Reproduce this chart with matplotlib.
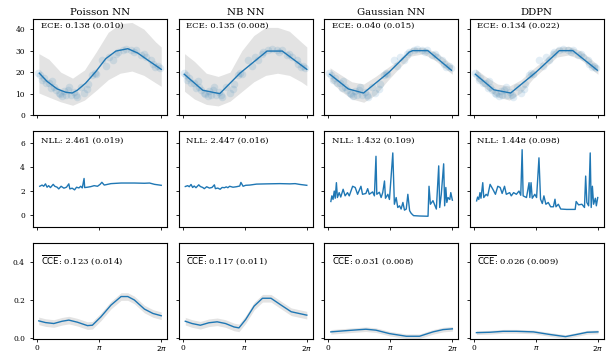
import numpy as np
import matplotlib.pyplot as plt

plt.rcParams['font.family'] = 'DejaVu Serif'
plt.rcParams['mathtext.fontset'] = 'dejavusans'

blue = '#1f77b4'

models = ["Poisson NN", "NB NN", "Gaussian NN", "DDPN"]
ece_txt = ["0.138 (0.010)", "0.135 (0.008)", "0.040 (0.015)", "0.134 (0.022)"]
nll_txt = ["2.461 (0.019)", "2.447 (0.016)", "1.432 (0.109)", "1.448 (0.098)"]
cce_txt = ["0.123 (0.014)", "0.117 (0.011)", "0.031 (0.008)", "0.026 (0.009)"]

# test points (row 1)
pts_x = [0.05, 0.17, 0.25, 0.34, 0.45, 0.59, 0.70, 0.76, 0.85, 0.95, 1.10, 1.15, 1.27, 1.36,
         1.45, 1.55, 1.61, 1.70, 1.85, 1.95, 2.00, 2.21, 2.38, 2.55, 2.60, 2.80, 2.92, 3.00,
         3.31, 3.50, 3.65, 3.82, 4.00, 4.08, 4.33, 4.50, 4.75, 4.90, 5.01, 5.26, 5.40, 5.52,
         5.77, 5.85, 5.98, 6.10, 6.20]
pts_y = [19.5, 18.7, 16.5, 17.2, 15.0, 14.9, 12.5, 15.7, 13.1, 11.5, 10.3, 10.0, 8.8, 11.1,
         9.5, 11.5, 13.1, 9.6, 10.8, 9.3, 8.5, 13.1, 10.3, 12.2, 14.5, 18.7, 19.8, 19.0,
         25.6, 23.0, 27.1, 25.6, 28.5, 29.4, 30.1, 30.9, 30.4, 29.5, 30.1, 27.9, 28.5, 27.1,
         25.6, 24.0, 22.5, 23.0, 21.8]

# predicted means (row 1)
poisson_mx = [0.12, 0.51, 1.02, 1.44, 1.78, 2.04, 2.46, 2.97, 3.48, 3.99, 4.59, 5.09, 5.60, 6.28]
poisson_my = [19.5, 15.7, 12.2, 10.7, 10.3, 11.6, 14.9, 20.2, 26.3, 29.8, 30.9, 28.9, 25.6, 21.3]
nb_mx = [0.09, 1.02, 1.88, 2.90, 4.27, 5.04, 6.28]
nb_my = [19.0, 11.6, 10.0, 19.5, 29.8, 29.8, 21.3]
gauss_mx = [0.09, 1.02, 1.79, 3.07, 4.10, 4.27, 5.04, 6.23]
gauss_my = [19.0, 12.2, 10.3, 19.9, 29.3, 30.0, 30.0, 20.9]
ddpn_mx = [0.09, 1.02, 1.87, 3.14, 4.33, 5.01, 6.25]
ddpn_my = [19.0, 11.8, 10.3, 19.9, 30.0, 30.0, 20.9]

# predictive intervals (row 1)
band_x = [0.1, 0.6, 1.2, 1.8, 2.4, 3.0, 3.6, 4.2, 4.8, 5.4, 6.0, 6.28]
poisson_lo = [10.3, 8.4, 6.2, 4.6, 7.0, 11.6, 16.5, 19.5, 20.5, 18.5, 15.0, 13.4]
poisson_hi = [28.6, 26.0, 20.0, 17.2, 21.0, 29.5, 38.5, 42.5, 43.1, 40.0, 34.0, 31.7]
nb_lo = [11.1, 7.5, 5.0, 4.3, 6.5, 11.0, 15.5, 18.5, 19.5, 18.5, 15.5, 13.7]
nb_hi = [28.6, 25.0, 19.5, 18.0, 20.0, 30.0, 37.0, 40.8, 40.8, 39.0, 34.0, 31.7]
gauss_lo = [16.0, 11.5, 7.5, 6.0, 9.5, 16.0, 22.0, 27.5, 28.5, 25.5, 21.0, 19.0]
gauss_hi = [22.0, 19.0, 15.5, 14.5, 18.0, 22.0, 26.0, 31.5, 31.5, 29.5, 25.5, 23.0]
ddpn_lo = [16.5, 12.5, 8.5, 7.0, 10.5, 17.0, 22.0, 27.0, 28.0, 26.0, 21.0, 19.0]
ddpn_hi = [21.5, 18.0, 14.5, 13.5, 16.5, 21.5, 26.0, 31.5, 32.0, 30.0, 25.5, 23.0]

# NLL traces (row 2)
poisson_nx = [0.14, 0.26, 0.34, 0.43, 0.51, 0.59, 0.68, 0.82, 0.90, 1.02, 1.10, 1.22, 1.36,
              1.49, 1.61, 1.66, 1.78, 1.90, 2.00, 2.12, 2.21, 2.29, 2.38, 2.41, 2.55, 2.72,
              2.89, 3.06, 3.19, 3.28, 3.40, 3.74, 4.25, 4.92, 5.43, 5.69, 5.94, 6.28]
poisson_ny = [2.40, 2.50, 2.40, 2.60, 2.32, 2.45, 2.29, 2.56, 2.40, 2.32, 2.18, 2.40, 2.24,
              2.32, 2.60, 2.18, 2.24, 2.10, 2.32, 2.26, 2.40, 2.26, 3.05, 2.29, 2.32, 2.37,
              2.45, 2.40, 2.56, 2.73, 2.50, 2.62, 2.67, 2.67, 2.65, 2.67, 2.56, 2.48]
nb_nx = [0.14, 0.26, 0.34, 0.43, 0.51, 0.59, 0.68, 0.82, 0.90, 1.02, 1.10, 1.22, 1.36,
         1.49, 1.61, 1.66, 1.78, 1.90, 2.00, 2.12, 2.21, 2.29, 2.38, 2.55, 2.72, 2.89,
         2.95, 3.06, 3.19, 3.40, 3.74, 4.25, 4.92, 5.43, 5.69, 5.94, 6.28]
nb_ny = [2.38, 2.45, 2.36, 2.55, 2.30, 2.42, 2.28, 2.52, 2.38, 2.30, 2.20, 2.36, 2.25,
         2.30, 2.52, 2.20, 2.25, 2.15, 2.30, 2.28, 2.35, 2.28, 2.40, 2.32, 2.36, 2.42,
         2.72, 2.40, 2.48, 2.50, 2.58, 2.60, 2.62, 2.60, 2.62, 2.55, 2.48]
gauss_nx = [0.14, 0.19, 0.25, 0.31, 0.36, 0.42, 0.47, 0.56, 0.64, 0.76, 0.86, 0.98, 1.07,
            1.24, 1.37, 1.49, 1.66, 1.74, 1.91, 2.00, 2.08, 2.25, 2.34, 2.42, 2.46, 2.59,
            2.68, 2.76, 2.85, 2.90, 3.02, 3.10, 3.18, 3.27, 3.35, 3.44, 3.52, 3.61, 3.69,
            3.78, 3.86, 3.95, 4.03, 4.12, 4.20, 4.32, 4.62, 5.05, 5.10, 5.17, 5.30, 5.47,
            5.59, 5.64, 5.72, 5.84, 5.89, 5.95, 6.00, 6.06, 6.15, 6.20, 6.28]
gauss_ny = [1.13, 1.60, 1.30, 2.00, 1.40, 2.70, 1.46, 1.87, 1.50, 2.15, 1.60, 1.87, 1.60,
            2.40, 2.30, 1.73, 2.40, 1.73, 1.80, 2.20, 1.73, 1.93, 1.60, 4.90, 1.73, 1.90,
            1.46, 1.87, 2.84, 1.40, 1.73, 1.30, 3.10, 5.18, 0.90, 1.46, 0.63, 0.77, 0.50,
            1.05, 0.41, 0.50, 1.73, 0.36, 0.14, -0.05, -0.08, -0.10, 2.40, 0.90, 1.20, 0.50,
            4.10, 0.63, 1.73, 4.27, 0.77, 2.30, 1.05, 1.46, 1.30, 1.87, 1.24]
ddpn_nx = [0.15, 0.20, 0.26, 0.32, 0.37, 0.46, 0.51, 0.63, 0.71, 0.83, 0.97, 1.10, 1.22,
           1.34, 1.44, 1.56, 1.65, 1.82, 1.90, 2.02, 2.16, 2.29, 2.38, 2.45, 2.50, 2.67,
           2.80, 2.84, 2.90, 2.96, 3.09, 3.18, 3.30, 3.38, 3.47, 3.55, 3.65, 3.77, 3.89,
           4.03, 4.11, 4.16, 4.28, 4.40, 4.70, 5.13, 5.18, 5.30, 5.47, 5.60, 5.66, 5.72,
           5.81, 5.89, 5.94, 6.00, 6.06, 6.15, 6.20, 6.27]
ddpn_ny = [1.18, 1.50, 1.30, 1.87, 1.40, 2.70, 1.46, 1.73, 1.60, 2.56, 2.15, 1.73, 2.40,
           2.30, 1.80, 2.40, 1.73, 1.87, 1.60, 1.87, 1.73, 2.00, 1.65, 5.45, 1.60, 1.46,
           2.70, 1.46, 2.70, 1.40, 1.73, 1.46, 4.77, 1.32, 0.96, 1.60, 0.90, 1.05, 0.69,
           0.69, 1.32, 0.69, 0.90, 0.50, 0.47, 0.47, 1.13, 0.85, 0.90, 0.63, 3.25, 1.05,
           0.77, 5.18, 0.63, 2.40, 0.90, 1.40, 0.77, 1.46]

# CCE traces (row 3)
poisson_cx = [0.09, 0.43, 0.85, 1.27, 1.61, 2.04, 2.55, 2.80, 3.23, 3.74, 4.25, 4.59, 4.92, 5.43, 5.86, 6.28]
poisson_cy = [0.090, 0.081, 0.076, 0.088, 0.094, 0.083, 0.065, 0.067, 0.111, 0.173, 0.218, 0.218, 0.200, 0.152, 0.129, 0.117]
nb_cx = [0.14, 0.48, 0.90, 1.33, 1.75, 2.17, 2.60, 2.85, 3.19, 3.62, 4.04, 4.47, 4.98, 5.49, 6.28]
nb_cy = [0.088, 0.076, 0.067, 0.080, 0.085, 0.076, 0.058, 0.053, 0.097, 0.168, 0.209, 0.209, 0.173, 0.138, 0.120]
gauss_cx = [0.14, 0.73, 1.24, 1.91, 2.42, 3.10, 3.95, 4.62, 5.30, 5.81, 6.28]
gauss_cy = [0.032, 0.037, 0.041, 0.046, 0.041, 0.023, 0.009, 0.009, 0.032, 0.044, 0.048]
ddpn_cx = [0.14, 0.82, 1.49, 2.17, 3.02, 3.87, 4.64, 5.23, 5.74, 6.28]
ddpn_cy = [0.028, 0.030, 0.035, 0.035, 0.032, 0.018, 0.007, 0.019, 0.030, 0.032]
cce_err = [0.02, 0.02, 0.012, 0.01]

mean_x = [poisson_mx, nb_mx, gauss_mx, ddpn_mx]
mean_y = [poisson_my, nb_my, gauss_my, ddpn_my]
band_lo = [poisson_lo, nb_lo, gauss_lo, ddpn_lo]
band_hi = [poisson_hi, nb_hi, gauss_hi, ddpn_hi]
nll_x = [poisson_nx, nb_nx, gauss_nx, ddpn_nx]
nll_y = [poisson_ny, nb_ny, gauss_ny, ddpn_ny]
cce_x = [poisson_cx, nb_cx, gauss_cx, ddpn_cx]
cce_y = [poisson_cy, nb_cy, gauss_cy, ddpn_cy]

fig, axes = plt.subplots(3, 4, figsize=(6.15, 3.56), dpi=100, sharex=True, sharey='row')
fig.subplots_adjust(left=0.054, right=0.982, top=0.946, bottom=0.048, wspace=0.086, hspace=0.166)

for j in range(4):
    ax = axes[0, j]
    ax.fill_between(band_x, band_lo[j], band_hi[j], color='0.89', lw=0, zorder=1)
    ax.scatter(pts_x, pts_y, s=30, color=blue, alpha=0.13, lw=0, zorder=2)
    ax.plot(mean_x[j], mean_y[j], color=blue, lw=1, zorder=3)
    ax.set_title(models[j], fontsize=7.3, pad=3)
    ax.text(0.055, 0.975, "ECE: " + ece_txt[j], transform=ax.transAxes, va='top', fontsize=6.1)

    ax = axes[1, j]
    ax.plot(nll_x[j], nll_y[j], color=blue, lw=1)
    ax.text(0.055, 0.945, "NLL: " + nll_txt[j], transform=ax.transAxes, va='top', fontsize=6.1)

    ax = axes[2, j]
    cy = np.array(cce_y[j])
    ax.fill_between(cce_x[j], cy - cce_err[j], cy + cce_err[j], color='0.89', lw=0)
    ax.plot(cce_x[j], cy, color=blue, lw=1)
    ax.text(0.055, 0.89, r"$\overline{\mathrm{CCE}}$: " + cce_txt[j], transform=ax.transAxes,
            va='top', fontsize=6.1)

for ax in axes.flat:
    ax.tick_params(labelsize=5.4, length=2.5, width=0.6)
    ax.tick_params(axis='y', pad=3.5)
    ax.tick_params(axis='x', pad=1.5)

axes[0, 0].set_ylim(0, 44.6)
axes[0, 0].set_yticks([0, 10, 20, 30, 40])
axes[1, 0].set_ylim(-1, 7)
axes[1, 0].set_yticks([0, 2, 4, 6])
axes[2, 0].set_ylim(-0.005, 0.5)
axes[2, 0].set_yticks([0.0, 0.2, 0.4])
axes[0, 0].set_xlim(-0.19, 2 * np.pi + 0.3)
axes[2, 0].set_xticks([0, np.pi, 2 * np.pi])
for ax in axes[2]:
    ax.set_xticklabels(['0', r'$\pi$', r'$2\pi$'])

plt.savefig('out.png', dpi=100)
